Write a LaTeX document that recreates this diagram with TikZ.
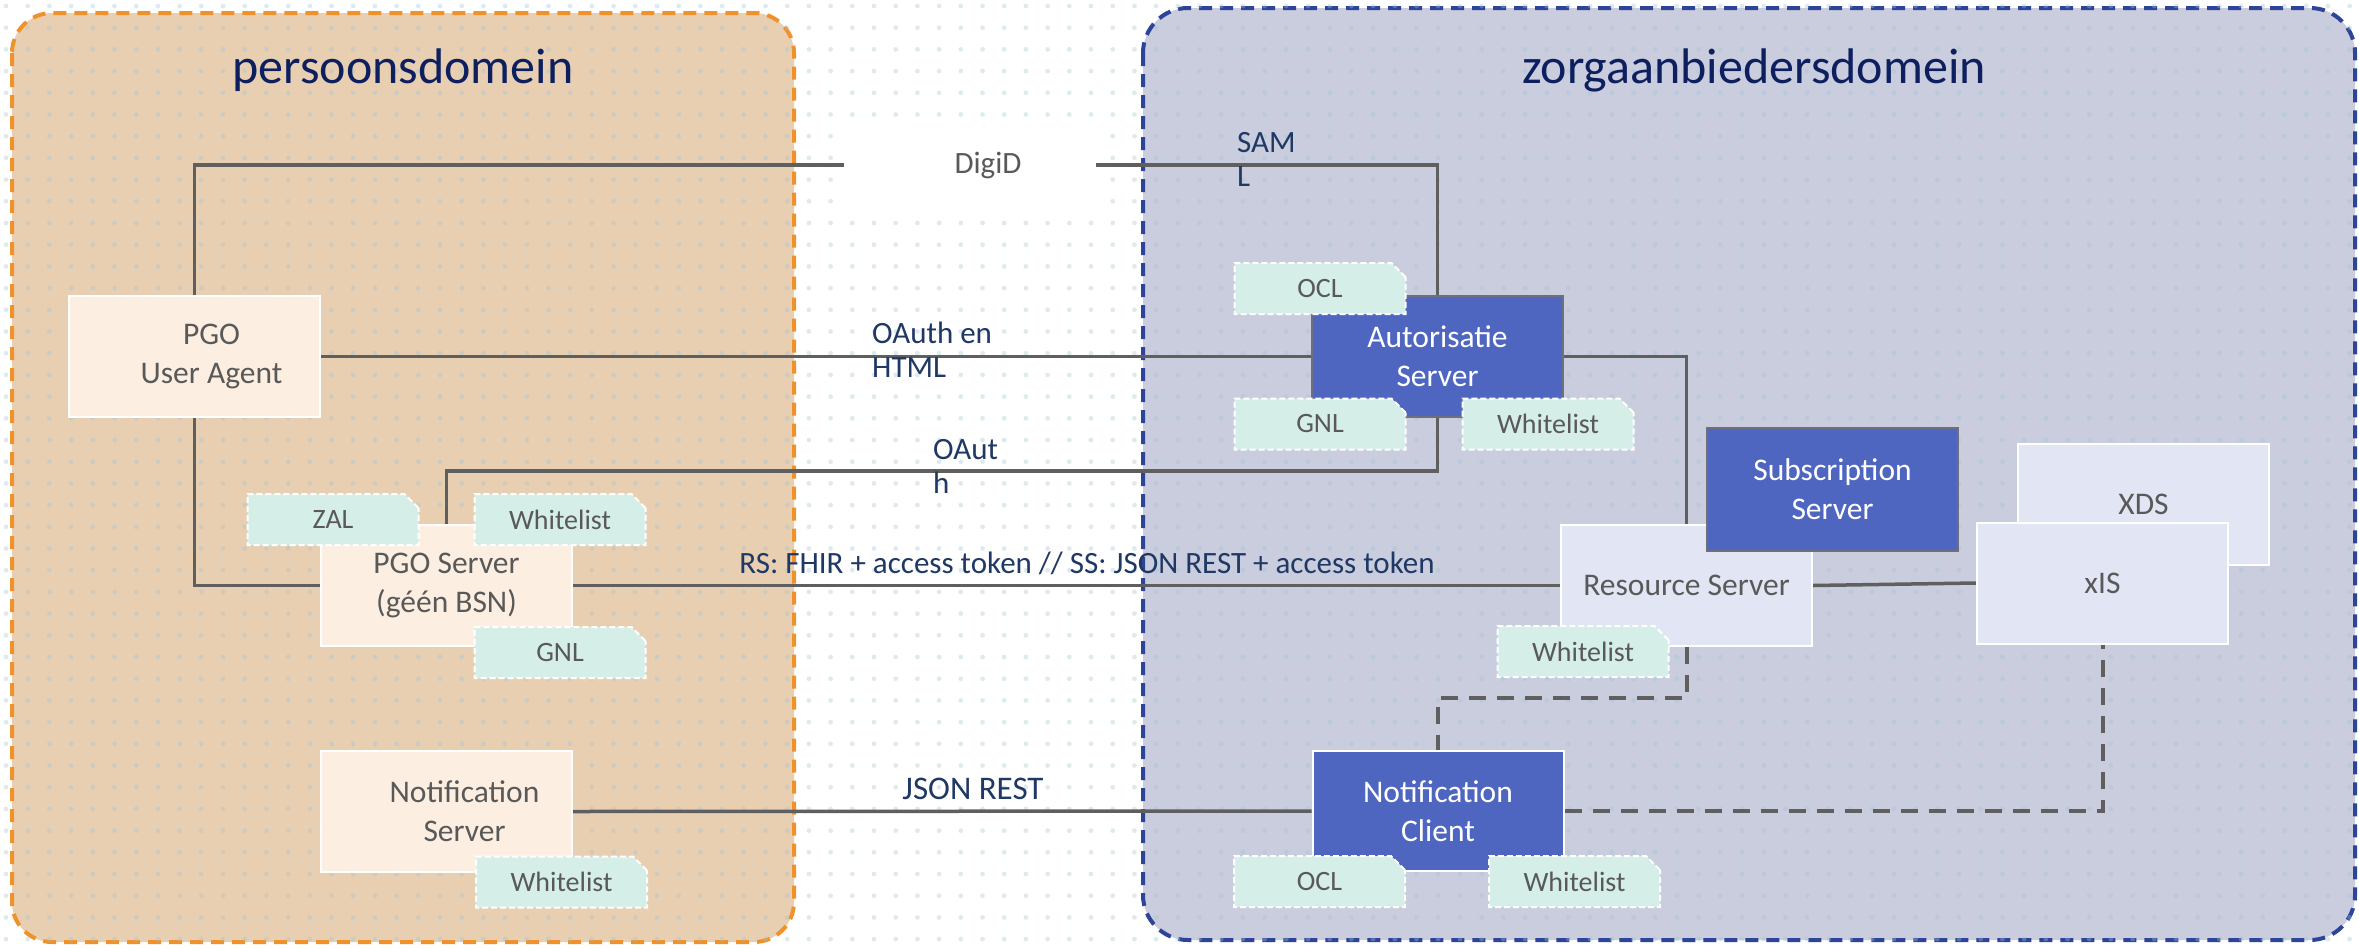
\documentclass[tikz,border=0pt]{standalone}
\usepackage{fontspec}
\setmainfont{Carlito}
\usetikzlibrary{shapes.misc}
\definecolor{orfill}{HTML}{E8CFB2}
\definecolor{ordraw}{HTML}{F0922B}
\definecolor{blfill}{HTML}{C9CDDD}
\definecolor{bldraw}{HTML}{2E4499}
\definecolor{cream}{HTML}{FCEFE2}
\definecolor{lav}{HTML}{E2E5F4}
\definecolor{nblue}{HTML}{4F66C1}
\definecolor{nborder}{HTML}{6D6F7D}
\definecolor{tagfill}{HTML}{D5EEE8}
\definecolor{txtgray}{HTML}{595959}
\definecolor{linegray}{HTML}{5F5F5F}
\definecolor{navy}{HTML}{1F3864}
\definecolor{titlenavy}{HTML}{0D1F5E}
\definecolor{dotc}{HTML}{9FC5D6}
\begin{document}
\begin{tikzpicture}[x=1pt,y=-1pt,
  domainO/.style={draw=ordraw,fill=orfill,line width=4pt,dash pattern=on 13pt off 8pt,rounded corners=40pt},
  domainB/.style={draw=bldraw,fill=blfill,line width=4pt,dash pattern=on 13pt off 8pt,rounded corners=45pt},
  ttl/.style={text=titlenavy,font=\fontsize{50}{56}\selectfont,anchor=base,inner sep=0pt},
  lightbox/.style={draw=white,line width=2pt,fill=cream,minimum width=251pt,minimum height=121pt,inner sep=0pt,align=center,text=txtgray,font=\fontsize{31.5}{39}\selectfont},
  lavbox/.style={lightbox,fill=lav},
  bluebox/.style={lightbox,fill=nblue,draw=nborder,text=white},
  tagbox/.style={chamfered rectangle,chamfered rectangle corners=north east,chamfered rectangle xsep=7pt,chamfered rectangle ysep=7pt,draw=white,line width=2pt,dash pattern=on 6pt off 3pt,fill=tagfill,minimum width=171pt,minimum height=51pt,inner sep=0pt,text=txtgray,font=\fontsize{28}{34}\selectfont},
  conn/.style={draw=linegray,line width=3.5pt},
  dconn/.style={draw=linegray,line width=4pt,dash pattern=on 17pt off 11pt},
  lbl/.style={text=navy,font=\fontsize{31}{34}\selectfont,inner sep=0pt,align=left},
  digi/.style={fill=white,minimum width=252pt,minimum height=90pt,inner sep=0pt,text=txtgray,font=\fontsize{31}{34}\selectfont}
]
\useasboundingbox (0,0) rectangle (2359,948);
\fill[white] (0,0) rectangle (2359,948);
% domains
\path[domainO] (12,13) rectangle (794,942);
\path[domainB] (1143,8) rectangle (2355,940);
% dotted texture
\begin{scope}[fill=dotc,fill opacity=0.35]
\foreach \i in {0,...,108}{\foreach \j in {0,...,43}{\fill (6+21.7*\i,6+21.7*\j) circle (2.4pt);}}
\end{scope}
\node[ttl] (t1) at (403,83) {persoonsdomein};
\node[ttl] (t2) at (1754,83) {zorgaanbiedersdomein};
% nodes
\node[digi] (dg) at (970,165) {\hspace*{36pt}DigiD};
\node[lightbox] (ua) at (194.5,356.5) {\hspace*{34pt}PGO\\\hspace*{34pt}User Agent};
\node[lightbox] (ps) at (446.5,585.5) {PGO Server\\(géén BSN)};
\node[lightbox] (ns) at (446.5,811.5) {\hspace*{36pt}Notification\\\hspace*{36pt}Server};
\node[bluebox] (as) at (1437.5,356.5) {Autorisatie\\Server};
\node[lavbox] (rs) at (1686.5,585.5) {Resource Server};
\node[bluebox,minimum height=123pt] (ss) at (1832.5,489.5) {Subscription\\Server};
\node[lavbox] (xds) at (2143.5,504.5) {XDS};
\node[lavbox] (xis) at (2102.5,583) {xIS};
\node[bluebox,draw=white,minimum height=120pt] (nc) at (1438,811) {Notification\\Client};
% connectors
\coordinate (k1) at (1437.5,471);
\coordinate (k2) at (1686.5,698);
\draw[conn] (ua.north) |- (dg.west);
\draw[conn] (dg.east) -| (as.north);
\draw[conn] (ua.east) -- (as.west);
\draw[conn] (as.east) -| (rs.north);
\draw[conn] (ps.north) |- (k1) -- (as.south);
\draw[conn] (ua.south) |- (ps.west);
\draw[conn] (ps.east) -- (rs.west);
\draw[conn] (rs.east) -- (xis.west);
\draw[conn] (ns.east) -- (nc.west);
\draw[dconn] (rs.south) -- (k2) -| (nc.north);
\draw[dconn] (nc.east) -| (xis.south);
% redraw boxes on top of connectors
\node[lightbox] at (ps) {PGO Server\\(géén BSN)};
\node[lavbox] at (rs) {Resource Server};
\node[bluebox,minimum height=123pt] at (ss) {Subscription\\Server};
\node[lavbox] at (xds) {XDS};
\node[lavbox] at (xis) {xIS};
% tags
\node[tagbox] (zal) at (333,519.5) {ZAL};
\node[tagbox] (wl1) at (560,519.5) {Whitelist};
\node[tagbox] (gnl1) at (560,652.5) {GNL};
\node[tagbox] (wl2) at (561.5,882) {Whitelist};
\node[tagbox] (ocl1) at (1320,288.5) {OCL};
\node[tagbox] (gnl2) at (1320,424) {GNL};
\node[tagbox] (wl3) at (1548,424) {Whitelist};
\node[tagbox] (wl4) at (1583,651.5) {Whitelist};
\node[tagbox] (ocl2) at (1319.5,881.5) {OCL};
\node[tagbox] (wl5) at (1574.5,881.5) {Whitelist};
% labels
\node[lbl,anchor=base west] (l1) at (872,377) {OAuth en\\HTML};
\node[lbl,anchor=base west] (l2) at (933,493) {OAut\\h};
\node[lbl,anchor=base west] (l3) at (1237,186) {SAM\\L};
\node[lbl,anchor=base] (l4) at (1087,573) {RS: FHIR + access token // SS: JSON REST + access token};
\node[lbl,anchor=base,font=\fontsize{33}{36}\selectfont] (l5) at (973,799) {JSON REST};
\end{tikzpicture}
\end{document}
